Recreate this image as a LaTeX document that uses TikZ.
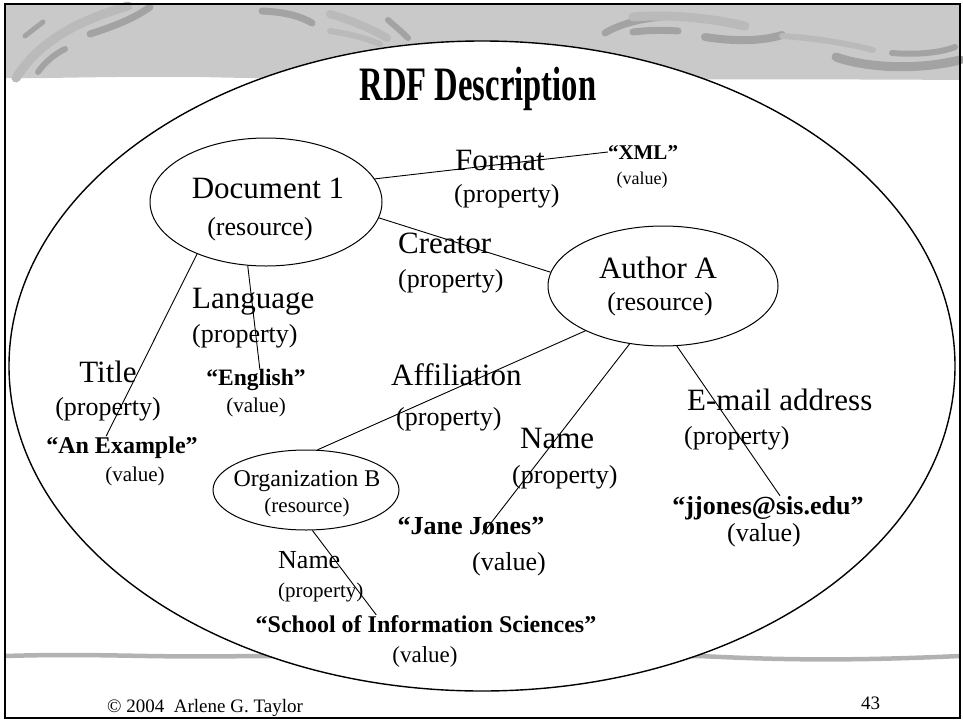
\documentclass[tikz,border=0pt]{standalone}
\usepackage{fontspec}
\setmainfont{Liberation Serif}
\newfontfamily\titlefont{Liberation Serif}[FakeStretch=0.68]
\usetikzlibrary{shapes.geometric}

\definecolor{bandgray}{gray}{0.79}
\definecolor{swoosh}{gray}{0.64}
\definecolor{swooshlt}{gray}{0.73}
\definecolor{rulegray}{gray}{0.70}

\tikzset{
  res/.style={draw, ellipse, line width=1pt, inner sep=0pt},
  txt/.style={inner sep=0pt, anchor=base, font=\fontsize{#1}{#1}\selectfont},
  txtl/.style={inner sep=0pt, anchor=base west, font=\fontsize{#1}{#1}\selectfont},
  val/.style={inner sep=0pt, anchor=base, font=\bfseries\fontsize{#1}{#1}\selectfont},
  link/.style={line width=0.9pt},
  deco/.style={line cap=round, line width=#1},
}

\begin{document}
\begin{tikzpicture}[x=1pt,y=-1pt]
  \useasboundingbox (0,0) rectangle (963,720);

  % header band with the swooshes
  \fill[bandgray] (5,4) -- (960,4) -- (960,80) .. controls (700,78) and (400,82) .. (200,77)
    .. controls (100,76) and (40,79) .. (5,78) -- cycle;
  \draw[swooshlt, deco=9pt] (16,78) .. controls (40,40) and (80,20) .. (128,6);
  \draw[swoosh, deco=5pt] (25,36) -- (43,22);
  \draw[swoosh, deco=6pt] (38,72) .. controls (45,62) and (55,54) .. (65,49);
  \draw[swoosh, deco=7pt] (90,34) .. controls (115,26) and (135,18) .. (150,7);
  \draw[swoosh, deco=7pt] (262,11) .. controls (285,12) and (300,16) .. (312,23);
  \draw[swooshlt, deco=8pt] (330,14) .. controls (350,20) and (370,28) .. (387,38);
  \draw[swooshlt, deco=6pt] (330,31) .. controls (350,34) and (365,38) .. (380,44);
  \draw[swoosh, deco=6pt] (388,20) .. controls (395,26) and (402,32) .. (408,38);
  \draw[swoosh, deco=7pt] (605,33) .. controls (620,24) and (640,19) .. (662,17);
  \draw[swooshlt, deco=9pt] (633,17) .. controls (670,14) and (710,18) .. (745,26);
  \draw[swoosh, deco=7pt] (633,32) .. controls (650,30) and (665,30) .. (678,31);
  \draw[swoosh, deco=8pt] (705,37) .. controls (730,41) and (760,42) .. (782,35);
  \draw[swooshlt, deco=6pt] (782,36) .. controls (815,38) and (850,44) .. (873,50);
  \draw[swoosh, deco=9pt] (836,57) .. controls (860,66) and (910,72) .. (960,60);
  \draw[swoosh, deco=6pt] (892,53) .. controls (915,55) and (940,53) .. (955,47);

  % footer rule
  \draw[rulegray, line width=4.5pt] (5,656) .. controls (100,653) and (150,658) .. (250,656)
    -- (700,656) .. controls (780,660) and (850,661) .. (960,656);

  % the description
  \draw[fill=white, line width=1.4pt] (482,366) ellipse [x radius=473, y radius=325];
  \node[inner sep=0pt, anchor=base, font=\titlefont\bfseries\fontsize{48}{48}\selectfont] (head) at (478,100) {RDF Description};

  % resources
  \node[res, minimum width=232, minimum height=128] (doc1) at (266,202) {};
  \node[txt=31] (doc1n) at (268,198) {Document 1};
  \node[txt=26] (doc1r) at (260,235) {(resource)};
  \node[res, minimum width=230, minimum height=120] (auth) at (663,286) {};
  \node[txt=31] (authn) at (658,278) {Author A};
  \node[txt=26] (authr) at (660,310) {(resource)};
  \node[res, minimum width=186, minimum height=80] (org) at (306,490) {};
  \node[txt=24] (orgn) at (307,486) {Organization B};
  \node[txt=21] (orgr) at (307,512) {(resource)};

  % properties
  \node[txtl=31] (fmt) at (455,170) {Format};
  \node[txtl=26] (fmtp) at (454,202) {(property)};
  \node[txtl=31] (crt) at (398,253) {Creator};
  \node[txtl=26] (crtp) at (398,287) {(property)};
  \node[txtl=31] (lang) at (192,308) {Language};
  \node[txtl=26] (langp) at (192,342) {(property)};
  \node[txt=31] (ttl) at (108,382) {Title};
  \node[txt=26] (ttlp) at (108,415) {(property)};
  \node[txtl=31] (aff) at (391,385) {Affiliation};
  \node[txtl=26] (affp) at (396,425) {(property)};
  \node[txtl=31] (nm) at (520,448) {Name};
  \node[txtl=26] (nmp) at (512,483) {(property)};
  \node[txtl=31] (mail) at (687,410) {E-mail address};
  \node[txtl=26] (mailp) at (684,444) {(property)};
  \node[txtl=26] (onm) at (278,568) {Name};
  \node[txtl=21] (onmp) at (278,597) {(property)};

  % values
  \node[val=21] (xml) at (643,159) {“XML”};
  \node[txt=18] (xmlv) at (642,184) {(value)};
  \node[val=24] (anex) at (122,453) {“An Example”};
  \node[txt=21] (anexv) at (135,481) {(value)};
  \node[val=23.5] (eng) at (256,385) {“English”};
  \node[txt=21] (engv) at (256,412) {(value)};
  \node[val=26] (jane) at (471,534) {“Jane Jones”};
  \node[txt=26] (janev) at (509,570) {(value)};
  \node[val=26] (jj) at (768,514) {“jjones@sis.edu”};
  \node[txt=26] (jjv) at (764,541) {(value)};
  \node[val=24] (school) at (426,632) {“School of Information Sciences”};
  \node[txt=23] (schoolv) at (425,662) {(value)};

  % statements
  \draw[link] (doc1.12) -- (xml.west);
  \draw[link] (doc1.-8) -- (auth.173);
  \draw[link] (doc1.-143) -- (anex.145);
  \draw[link] (doc1.-106) -- (eng.71);
  \draw[link] (auth.-150) -- (org.74);
  \draw[link] (auth.-120) -- (jane.-39);
  \draw[link] (auth.-77) -- (jj.45);
  \draw[link] (org.-81) -- (school.170);

  % footer
  \node[txtl=19] (copy) at (107,712) {© 2004\ \ Arlene G. Taylor};
  \node[txtl=19] (page) at (861,709) {43};

  \draw[line width=2pt] (5,4) rectangle (960,718);
\end{tikzpicture}
\end{document}
